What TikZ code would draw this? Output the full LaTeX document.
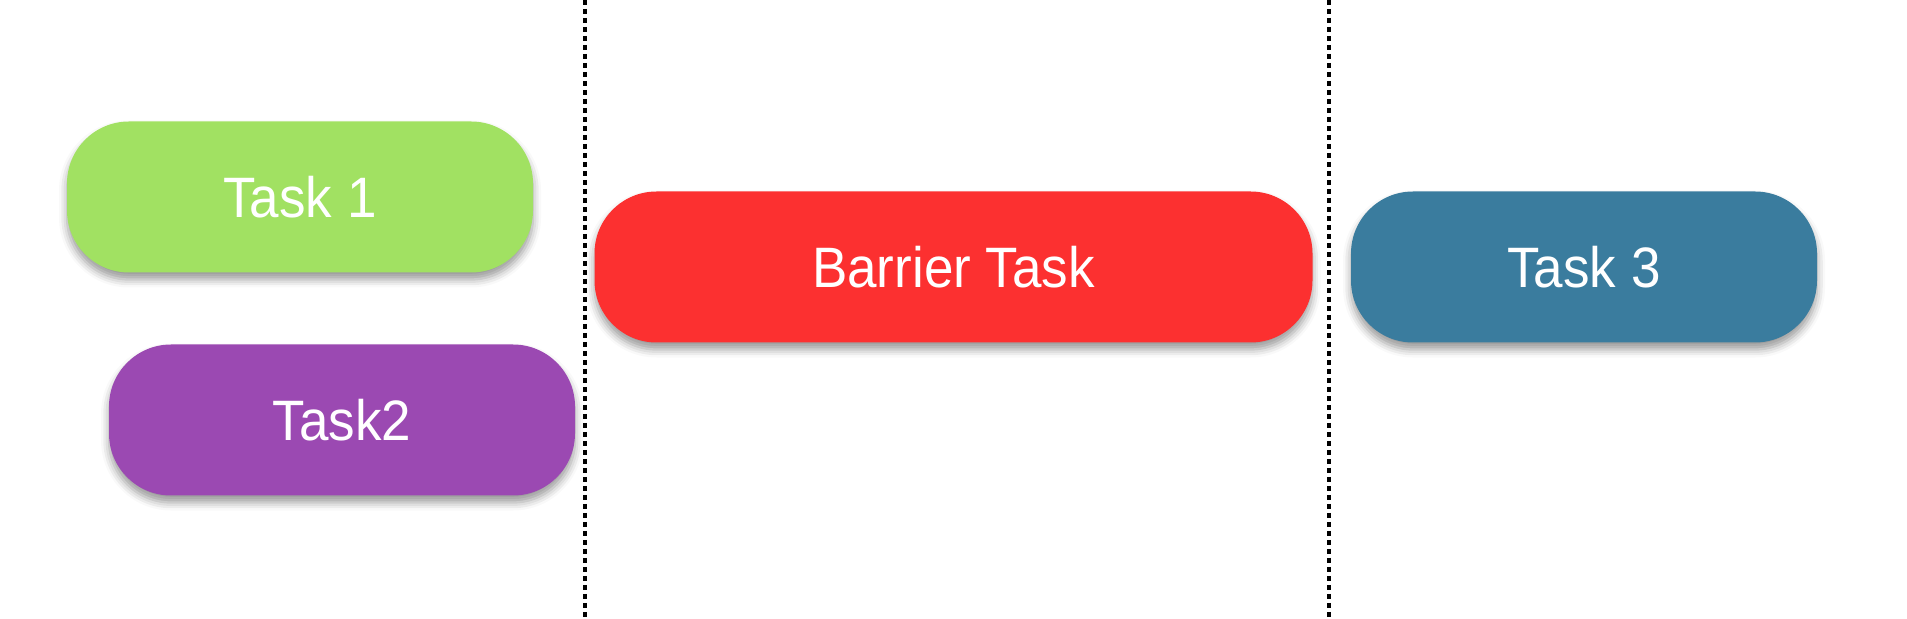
\documentclass[tikz,border=0pt]{standalone}
\usepackage{fontspec}
\setmainfont{Liberation Sans}
\newfontfamily\taskfont[FakeStretch=0.93]{Liberation Sans}
\usepackage{tikz}
\usetikzlibrary{shadows.blur}

\definecolor{taskgreen}{RGB}{161,225,98}
\definecolor{taskpurple}{RGB}{155,73,178}
\definecolor{barrierred}{RGB}{252,48,48}
\definecolor{taskblue}{RGB}{58,124,158}

\tikzset{
    task/.style={rounded corners=31pt, minimum width=233pt, minimum height=75.5pt,
        text=white, font=\taskfont\fontsize{28.5}{32}\selectfont,
        blur shadow={shadow xshift=0pt, shadow yshift=-3.5pt, shadow blur radius=4pt, shadow opacity=40}},
    separator/.style={line width=1.6pt, dash pattern=on 2.5pt off 2pt}
}

\begin{document}
\begin{tikzpicture}[x=0.5pt, y=-0.5pt]
    % 1. Fix the page to the picture size
    \useasboundingbox (0,0) rectangle (1907,619);

    % 2. Phase separators
    \draw[separator] (585,0) -- (585,619);
    \draw[separator] (1329,0) -- (1329,619);

    % 3. Tasks before the barrier
    \node[task, fill=taskgreen] (task1) at (300,197) {Task 1};
    \node[task, fill=taskpurple] (task2) at (342,420) {Task2};

    % 4. The barrier task
    \node[task, fill=barrierred, minimum width=359pt] (barrier) at (953.5,267) {Barrier Task};

    % 5. Task after the barrier
    \node[task, fill=taskblue] (task3) at (1584,267) {Task 3};
\end{tikzpicture}
\end{document}
